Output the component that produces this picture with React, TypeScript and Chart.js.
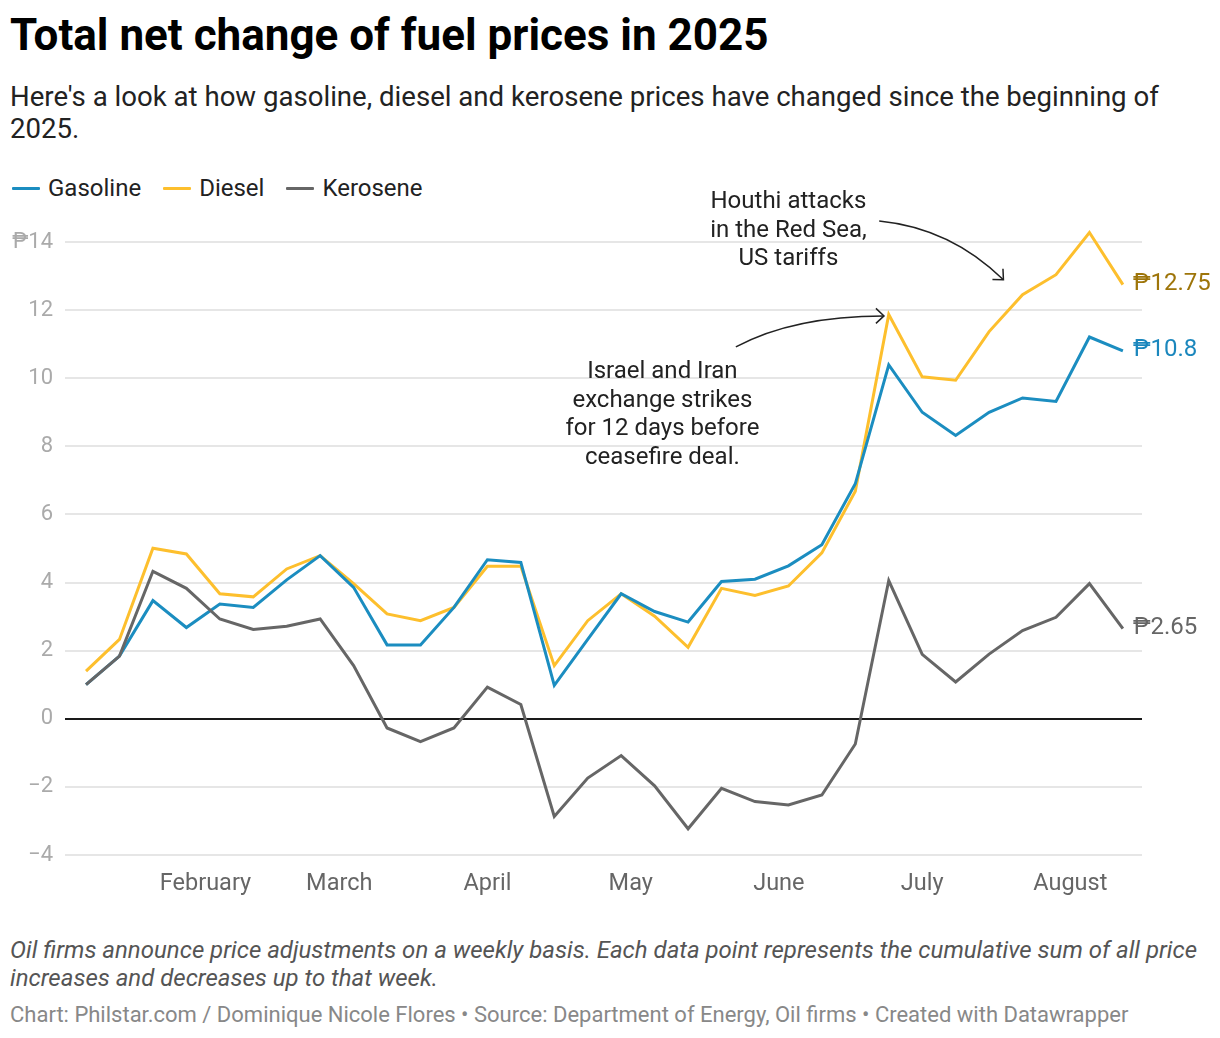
import React, { useEffect, useRef } from "react";
import { Chart, registerables } from "chart.js";

Chart.register(...registerables);

// ---- Data (weekly price adjustment dates, cumulative net change in PHP/litre) ----
const weekDates = [
  "2025-01-07", "2025-01-14", "2025-01-21", "2025-01-28", "2025-02-04", "2025-02-11",
  "2025-02-18", "2025-02-25", "2025-03-04", "2025-03-11", "2025-03-18", "2025-03-25",
  "2025-04-01", "2025-04-08", "2025-04-15", "2025-04-22", "2025-04-29", "2025-05-06",
  "2025-05-13", "2025-05-20", "2025-05-27", "2025-06-03", "2025-06-10", "2025-06-17",
  "2025-06-24", "2025-07-01", "2025-07-08", "2025-07-15", "2025-07-22", "2025-07-29",
  "2025-08-05", "2025-08-12",
];

const gasoline = [
  1.0, 1.84, 3.47, 2.68, 3.37, 3.27, 4.08, 4.79, 3.86, 2.17, 2.17, 3.27,
  4.67, 4.59, 0.98, 2.33, 3.67, 3.15, 2.84, 4.03, 4.1, 4.49, 5.11, 6.9,
  10.39, 9.0, 8.32, 9.0, 9.42, 9.32, 11.21, 10.8,
];

const diesel = [
  1.4, 2.33, 5.01, 4.84, 3.67, 3.58, 4.4, 4.79, 3.97, 3.08, 2.88, 3.27,
  4.48, 4.48, 1.56, 2.88, 3.67, 3.01, 2.1, 3.83, 3.62, 3.9, 4.87, 6.68,
  11.87, 10.04, 9.94, 11.37, 12.45, 13.04, 14.28, 12.75,
];

const kerosene = [
  1.0, 1.84, 4.33, 3.83, 2.93, 2.62, 2.72, 2.93, 1.56, -0.27, -0.67, -0.27,
  0.93, 0.42, -2.87, -1.74, -1.08, -1.97, -3.23, -2.04, -2.43, -2.53, -2.24, -0.74,
  4.06, 1.89, 1.08, 1.9, 2.59, 2.98, 3.97, 2.65,
];

const monthTickDates = ["2025-02-01", "2025-03-01", "2025-04-01", "2025-05-01", "2025-06-01", "2025-07-01", "2025-08-01"];
const monthTickLabels = ["February", "March", "April", "May", "June", "July", "August"];

const yTickValues = [-4, -2, 0, 2, 4, 6, 8, 10, 12, 14];

const seriesNames = ["Gasoline", "Diesel", "Kerosene"];
const seriesColors = ["#1b8dc0", "#fdbf2d", "#666666"];
const endLabelColors = ["#1b87bd", "#9e750a", "#666666"];

// annotations anchored in data space (date, value)
const annotations = [
  {
    lines: ["Houthi attacks", "in the Red Sea,", "US tariffs"],
    at: ["2025-06-03", 15.18],
    arrow: { from: ["2025-06-22", 14.62], ctrl: ["2025-07-07", 14.41], to: ["2025-07-18", 12.89] },
  },
  {
    lines: ["Israel and Iran", "exchange strikes", "for 12 days before", "ceasefire deal."],
    at: ["2025-05-07T15:00", 10.18],
    arrow: { from: ["2025-05-23", 10.92], ctrl: ["2025-06-04", 11.83], to: ["2025-06-23", 11.83] },
  },
];

const dayOfYear = (s: string) => {
  const iso = s.length > 10 ? s + ":00Z" : s + "T00:00:00Z";
  const d = new Date(iso);
  return (d.getTime() - Date.UTC(2025, 0, 1)) / 86400000;
};

const xDays = weekDates.map(dayOfYear);
const monthTickDays = monthTickDates.map(dayOfYear);

const FONT = "Roboto, 'Noto Sans', sans-serif";

export default function App() {
  const canvasRef = useRef<HTMLCanvasElement | null>(null);

  useEffect(() => {
    if (!canvasRef.current) return;
    const fmtEnd = (v: number) => "₱" + String(v);

    const overlayPlugin = {
      id: "overlay",
      afterDatasetsDraw(chart: any) {
        const ctx = chart.ctx as CanvasRenderingContext2D;
        const xs = chart.scales.x;
        const ys = chart.scales.y;
        // end labels
        ctx.save();
        ctx.font = `24px ${FONT}`;
        ctx.textBaseline = "middle";
        ctx.textAlign = "left";
        chart.data.datasets.forEach((ds: any) => {
          const i = seriesNames.indexOf(ds.label);
          const last = ds.data[ds.data.length - 1];
          const px = xs.getPixelForValue(last.x);
          const py = ys.getPixelForValue(last.y);
          ctx.fillStyle = endLabelColors[i];
          ctx.fillText(fmtEnd(last.y), px + 10, py - 1);
        });
        // annotations
        ctx.font = `24px ${FONT}`;
        ctx.fillStyle = "#222";
        ctx.textAlign = "center";
        annotations.forEach((a) => {
          const cx = xs.getPixelForValue(dayOfYear(a.at[0] as string));
          const cy = ys.getPixelForValue(a.at[1] as number);
          a.lines.forEach((ln, k) => ctx.fillText(ln, cx, cy + k * 28.7));
          const p = (pt: any) => [xs.getPixelForValue(dayOfYear(pt[0])), ys.getPixelForValue(pt[1])];
          const [x0, y0] = p(a.arrow.from);
          const [x1, y1] = p(a.arrow.ctrl);
          const [x2, y2] = p(a.arrow.to);
          ctx.strokeStyle = "#222";
          ctx.lineWidth = 1.5;
          ctx.beginPath();
          ctx.moveTo(x0, y0);
          ctx.quadraticCurveTo(x1, y1, x2, y2);
          ctx.stroke();
          const ang = Math.atan2(y2 - y1, x2 - x1);
          const L = 11;
          ctx.beginPath();
          ctx.moveTo(x2 + L * Math.cos(ang + Math.PI - 0.75), y2 + L * Math.sin(ang + Math.PI - 0.75));
          ctx.lineTo(x2, y2);
          ctx.lineTo(x2 + L * Math.cos(ang + Math.PI + 0.75), y2 + L * Math.sin(ang + Math.PI + 0.75));
          ctx.stroke();
        });
        ctx.restore();
      },
    };

    const mk = (vals: number[], i: number) => ({
      label: seriesNames[i],
      data: vals.map((v, k) => ({ x: xDays[k], y: v })),
      borderColor: seriesColors[i],
      backgroundColor: seriesColors[i],
      borderWidth: 3,
      pointRadius: 0,
      tension: 0,
      clip: false as const,
      borderJoinStyle: "miter" as const,
    });

    const chart = new Chart(canvasRef.current, {
      type: "line",
      data: {
        // first dataset is drawn on top
        datasets: [mk(kerosene, 2), mk(gasoline, 0), mk(diesel, 1)],
      },
      options: {
        animation: false,
        responsive: true,
        maintainAspectRatio: false,
        layout: { padding: { top: 62, right: 78, left: 0, bottom: 0 } },
        plugins: { legend: { display: false }, tooltip: { enabled: false } },
        scales: {
          x: {
            type: "linear",
            min: 1.6,
            max: 227,
            grid: { display: false },
            border: { display: false },
            afterBuildTicks: (scale: any) => {
              scale.ticks = monthTickDays.map((v) => ({ value: v }));
            },
            afterFit: (scale: any) => {
              scale.height = 55;
            },
            ticks: {
              autoSkip: false,
              maxRotation: 0,
              padding: 7,
              color: "#666666",
              font: { family: FONT, size: 23.5 },
              callback: (v: any) => {
                const idx = monthTickDays.indexOf(Number(v));
                return idx >= 0 ? monthTickLabels[idx] : "";
              },
            },
          },
          y: {
            min: -4,
            max: 14,
            afterBuildTicks: (scale: any) => {
              scale.ticks = yTickValues.map((v) => ({ value: v }));
            },
            afterFit: (scale: any) => {
              scale.width = 65;
            },
            border: { display: false },
            grid: {
              drawTicks: false,
              color: (c: any) => (c.tick && c.tick.value === 0 ? "#1a1a1a" : "#e6e6e6"),
              lineWidth: 2,
            },
            ticks: {
              padding: 12,
              color: "#aaaaaa",
              font: { family: FONT, size: 22 },
              callback: (v: any) => {
                const n = Number(v);
                const s = n < 0 ? "−" + Math.abs(n) : String(n);
                return n === yTickValues[yTickValues.length - 1] ? "₱" + s : s;
              },
            },
          },
        },
      },
      plugins: [overlayPlugin],
    });
    return () => chart.destroy();
  }, []);

  const legendItem = (name: string, color: string) => (
    <div key={name} style={{ display: "flex", alignItems: "center", marginRight: 22 }}>
      <div style={{ width: 28, height: 3, background: color, marginRight: 8, borderRadius: 1 }} />
      <span>{name}</span>
    </div>
  );

  return (
    <div style={{ position: "relative", width: 1204, height: 1022, fontFamily: FONT, color: "#222" }}>
      <div style={{ position: "absolute", left: 2, top: 5, fontSize: 44, lineHeight: "44px", fontWeight: 700, color: "#000", whiteSpace: "nowrap" }}>
        Total net change of fuel prices in 2025
      </div>
      <div style={{ position: "absolute", left: 2, top: 72.6, width: 1205, fontSize: 27.6, lineHeight: "32px", color: "#222" }}>
        Here's a look at how gasoline, diesel and kerosene prices have changed since the beginning of 2025.
      </div>
      <div style={{ position: "absolute", left: 4, top: 168, height: 24, display: "flex", fontSize: 24, lineHeight: "24px", color: "#222" }}>
        {seriesNames.map((n, i) => legendItem(n, seriesColors[i]))}
      </div>
      <div style={{ position: "absolute", left: -8, top: 172, width: 1220, height: 730 }}>
        <canvas ref={canvasRef} />
      </div>
      <div style={{ position: "absolute", left: 2, top: 928, width: 1210, fontSize: 24, lineHeight: "28px", fontStyle: "italic", color: "#555" }}>
        Oil firms announce price adjustments on a weekly basis. Each data point represents the cumulative sum of all price increases and decreases up to that week.
      </div>
      <div style={{ position: "absolute", left: 2, top: 995, fontSize: 22, lineHeight: "24px", color: "#888", whiteSpace: "nowrap" }}>
        Chart: Philstar.com / Dominique Nicole Flores • Source: Department of Energy, Oil firms • Created with Datawrapper
      </div>
    </div>
  );
}
